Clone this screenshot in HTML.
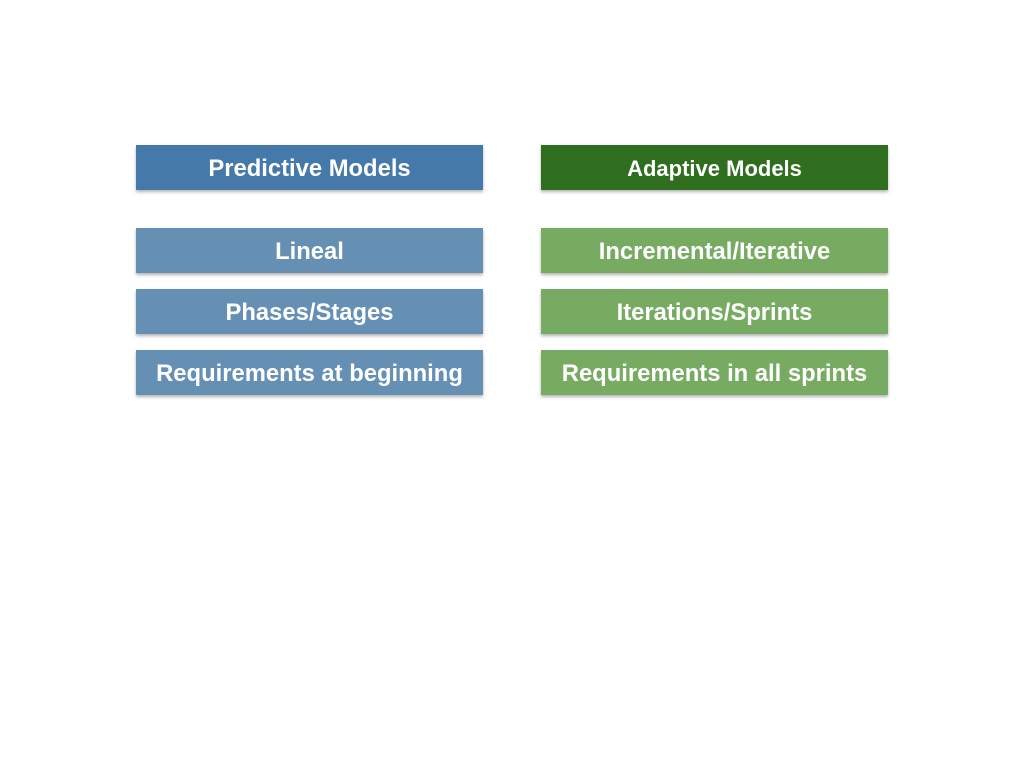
<!DOCTYPE html>
<html><head><style>
body{margin:0;width:1024px;height:768px;background:#fff;position:relative;overflow:hidden;font-family:"Liberation Sans",sans-serif;}
.b{position:absolute;width:347px;height:45px;color:#fff;font-weight:bold;font-size:23.8px;display:flex;align-items:center;justify-content:center;box-shadow:0 2px 3px rgba(0,0,0,0.3);white-space:nowrap;box-sizing:border-box;padding-top:3px;}
.l{left:136px}.r{left:541px}
.pm{background:#4579aa}.li{background:#6590b4}.am{background:#2f6e1f;font-size:22px}.ri{background:#77ab62}
</style></head><body>
<div class="b l pm" style="top:145px">Predictive Models</div>
<div class="b r am" style="top:145px">Adaptive Models</div>
<div class="b l li" style="top:228px">Lineal</div>
<div class="b l li" style="top:289px">Phases/Stages</div>
<div class="b l li" style="top:350px">Requirements at beginning</div>
<div class="b r ri" style="top:228px">Incremental/Iterative</div>
<div class="b r ri" style="top:289px">Iterations/Sprints</div>
<div class="b r ri" style="top:350px">Requirements in all sprints</div>
</body></html>
